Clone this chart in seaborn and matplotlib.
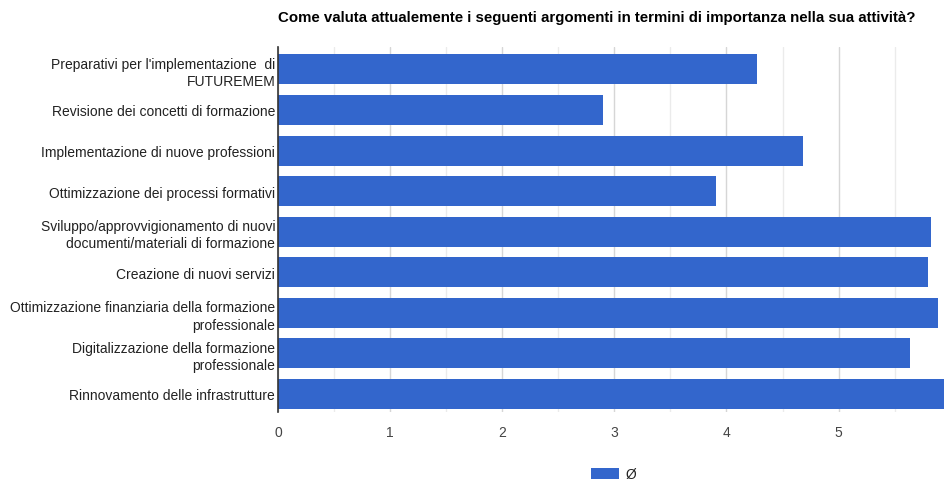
import matplotlib
matplotlib.use("Agg")
import matplotlib.pyplot as plt
import seaborn as sns
import pandas as pd
from matplotlib.patches import Patch
from matplotlib.ticker import MultipleLocator

categories = [
    "Preparativi per l'implementazione  di\nFUTUREMEM",
    "Revisione dei concetti di formazione",
    "Implementazione di nuove professioni",
    "Ottimizzazione dei processi formativi",
    "Sviluppo/approvvigionamento di nuovi\ndocumenti/materiali di formazione",
    "Creazione di nuovi servizi",
    "Ottimizzazione finanziaria della formazione\nprofessionale",
    "Digitalizzazione della formazione\nprofessionale",
    "Rinnovamento delle infrastrutture",
]
values = [4.27, 2.90, 4.68, 3.91, 5.82, 5.80, 5.89, 5.64, 5.97]
series_name = "Ø"
title = "Come valuta attualemente i seguenti argomenti in termini di importanza nella sua attività?"

sns.set_theme(style="white")
plt.rcParams['font.family'] = ['Liberation Sans', 'DejaVu Sans']

df = pd.DataFrame({"categoria": categories, "valore": values})

fig = plt.figure(figsize=(9.44, 4.81), dpi=100)
ax = fig.add_axes([0.2945, 0.141, 0.7055, 0.759])

blue = "#3366CC"
sns.barplot(data=df, x="valore", y="categoria", orient="h", color=blue,
            width=0.74, saturation=1, ax=ax, zorder=3, linewidth=0)

ax.set_xlim(0, 5.94)
ax.set_ylim(8.45, -0.55)
ax.xaxis.set_major_locator(MultipleLocator(1))
ax.xaxis.set_minor_locator(MultipleLocator(0.5))
ax.grid(axis="x", which="major", color="#d6d6d6", linewidth=1, zorder=0)
ax.grid(axis="x", which="minor", color="#ebebeb", linewidth=1, zorder=0)
ax.set_axisbelow(True)
ax.set_xlabel("")
ax.set_ylabel("")
for s in ["top", "right", "bottom"]:
    ax.spines[s].set_visible(False)
ax.spines["left"].set_color("#333333")
ax.spines["left"].set_linewidth(1.2)
ax.spines["left"].set_zorder(5)
ax.tick_params(axis="both", which="both", length=0)
ax.tick_params(axis="x", pad=9, labelsize=10, labelcolor="#444444")
ax.tick_params(axis="y", pad=2, labelsize=10, labelcolor="#222222")
for lab in ax.get_yticklabels():
    lab.set_linespacing(1.3)
    lab.set_multialignment("right")

fig.text(0.6325, 0.962, title, ha="center", va="center", fontsize=10.8,
         fontweight="bold", color="#000000")

handle = Patch(facecolor=blue, edgecolor="none", label=series_name)
fig.legend(handles=[handle], loc="center", bbox_to_anchor=(0.65, 0.012),
           frameon=False, fontsize=10, handlelength=2.0, handleheight=0.9,
           handletextpad=0.5, labelcolor="#222222")

fig.savefig("out.png", dpi=100)
